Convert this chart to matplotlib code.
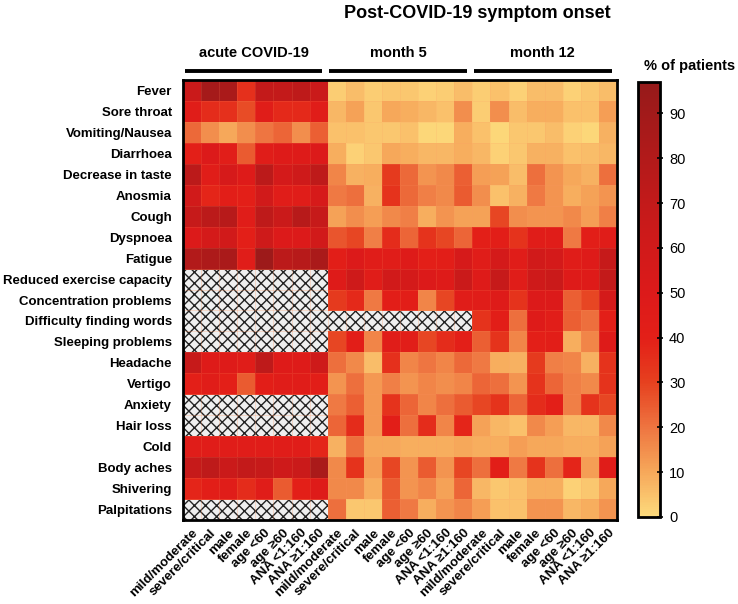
import numpy as np
import matplotlib
matplotlib.use("Agg")
import matplotlib.pyplot as plt
from matplotlib.colors import LinearSegmentedColormap
from matplotlib.patches import Rectangle

plt.rcParams['font.family'] = ['Liberation Sans', 'DejaVu Sans']
plt.rcParams['hatch.linewidth'] = 1.0

symptoms = ["Fever", "Sore throat", "Vomiting/Nausea", "Diarrhoea", "Decrease in taste",
            "Anosmia", "Cough", "Dyspnoea", "Fatigue", "Reduced exercise capacity",
            "Concentration problems", "Difficulty finding words", "Sleeping problems",
            "Headache", "Vertigo", "Anxiety", "Hair loss", "Cold", "Body aches",
            "Shivering", "Palpitations"]
subgroups = ["mild/moderate", "severe/critical", "male", "female",
             "age <60", "age \u226560", "ANA <1:160", "ANA \u22651:160"]
periods = ["acute COVID-19", "month 5", "month 12"]

n = np.nan
# % of patients, rows = symptoms, cols = subgroups (nan = not assessed)
acute = np.array([
    [65, 88, 85, 35, 70, 70, 73, 65],
    [45, 36, 35, 28, 45, 37, 37, 45],
    [22, 15, 10, 15, 20, 23, 15, 24],
    [40, 50, 43, 25, 45, 47, 47, 50],
    [75, 45, 55, 47, 75, 57, 62, 73],
    [60, 38, 42, 40, 60, 45, 45, 55],
    [68, 75, 77, 45, 73, 65, 77, 68],
    [50, 57, 60, 40, 62, 50, 50, 60],
    [80, 83, 85, 45, 93, 75, 77, 85],
    [n, n, n, n, n, n, n, n],
    [n, n, n, n, n, n, n, n],
    [n, n, n, n, n, n, n, n],
    [n, n, n, n, n, n, n, n],
    [68, 47, 47, 45, 73, 47, 47, 62],
    [40, 45, 40, 25, 42, 45, 45, 42],
    [n, n, n, n, n, n, n, n],
    [n, n, n, n, n, n, n, n],
    [45, 45, 45, 45, 45, 45, 45, 38],
    [68, 73, 65, 70, 68, 62, 65, 85],
    [38, 42, 45, 36, 45, 25, 40, 47],
    [n, n, n, n, n, n, n, n],
])
month5 = np.array([
    [3, 6, 3, 4, 4, 2, 3, 6],
    [7, 11, 4, 10, 9, 7, 5, 15],
    [5, 5, 4, 4, 5, 1, 1, 9],
    [9, 2, 4, 10, 9, 7, 7, 9],
    [17, 8, 9, 32, 22, 14, 16, 24],
    [19, 21, 8, 34, 22, 18, 16, 25],
    [11, 15, 12, 16, 18, 9, 14, 11],
    [26, 29, 18, 36, 23, 34, 29, 23],
    [42, 50, 45, 45, 47, 40, 42, 55],
    [47, 62, 45, 60, 57, 50, 47, 65],
    [32, 37, 19, 42, 42, 17, 29, 45],
    [n, n, n, n, n, n, n, n],
    [29, 42, 17, 45, 43, 29, 36, 40],
    [21, 16, 6, 35, 17, 20, 17, 22],
    [14, 21, 13, 18, 14, 17, 15, 17],
    [19, 24, 13, 34, 23, 17, 21, 25],
    [23, 36, 13, 42, 21, 36, 17, 38],
    [8, 21, 10, 10, 9, 9, 9, 10],
    [16, 34, 12, 29, 14, 25, 14, 29],
    [16, 16, 9, 25, 14, 17, 11, 23],
    [21, 4, 4, 24, 19, 9, 14, 17],
])
month12 = np.array([
    [3, 5, 2, 6, 6, 2, 4, 6],
    [3, 15, 6, 9, 9, 5, 5, 12],
    [5, 1, 4, 4, 6, 2, 1, 8],
    [7, 2, 4, 8, 8, 5, 6, 7],
    [12, 11, 6, 21, 14, 10, 8, 21],
    [15, 5, 8, 19, 14, 9, 11, 14],
    [11, 29, 15, 14, 14, 16, 12, 18],
    [40, 42, 34, 45, 45, 19, 42, 45],
    [44, 57, 45, 60, 57, 45, 47, 68],
    [47, 68, 45, 62, 65, 47, 47, 70],
    [45, 47, 34, 50, 50, 24, 29, 57],
    [34, 42, 21, 47, 43, 24, 21, 40],
    [24, 34, 17, 40, 42, 9, 17, 47],
    [19, 9, 8, 32, 18, 17, 8, 34],
    [23, 21, 14, 34, 23, 18, 16, 34],
    [29, 34, 23, 36, 40, 18, 34, 29],
    [11, 7, 5, 16, 12, 7, 7, 16],
    [9, 9, 12, 10, 10, 9, 9, 11],
    [21, 42, 19, 34, 21, 38, 12, 45],
    [7, 4, 5, 9, 9, 2, 4, 10],
    [12, 5, 5, 14, 14, 7, 9, 14],
])

data = np.hstack([acute, month5, month12])
vmax = 97

cmap = LinearSegmentedColormap.from_list("onset", [
    (0 / vmax, "#FDDB7C"), (10 / vmax, "#F6A75A"), (20 / vmax, "#EE7440"),
    (30 / vmax, "#E6401F"), (40 / vmax, "#E31F18"), (50 / vmax, "#DC1A1A"),
    (60 / vmax, "#D11A1A"), (70 / vmax, "#C31A1A"), (80 / vmax, "#B21A1A"),
    (90 / vmax, "#A21A1A"), (1.0, "#961A1A")])

fig = plt.figure(figsize=(7.38, 6.04), dpi=100)
ax = fig.add_axes([183 / 738, 84 / 604, 434 / 738, 440 / 604])

# hatched background shows through the missing cells
ax.add_patch(Rectangle((0, 0), 1, 1, transform=ax.transAxes, facecolor="#EFEFEF",
                       edgecolor="#222222", hatch="xxx", linewidth=0, zorder=0))
mesh = ax.pcolormesh(np.ma.masked_invalid(data), cmap=cmap, vmin=0, vmax=vmax,
                     edgecolors=(1, 0.6, 0.4, 0.15), linewidth=0.5, zorder=1)
ax.set_xlim(0, data.shape[1])
ax.set_ylim(data.shape[0], 0)

ax.set_yticks(np.arange(len(symptoms)) + 0.5)
ax.set_yticklabels(symptoms, fontsize=9.5, fontweight="bold")
ax.set_xticks(np.arange(data.shape[1]) + 0.5)
ax.set_xticklabels(subgroups * len(periods), fontsize=9.5, fontweight="bold",
                   rotation=45, ha="right", rotation_mode="anchor")
ax.tick_params(axis="y", length=0, pad=8)
ax.tick_params(axis="x", length=0, pad=5)
for s in ax.spines.values():
    s.set_linewidth(2)
    s.set_zorder(3)

# period headers with bars
trans = ax.get_xaxis_transform()
for g, name in enumerate(periods):
    x0 = g * len(subgroups)
    ax.plot([x0 + 0.1, x0 + len(subgroups) - 0.3], [1.0205, 1.0205], color="black",
            lw=2.8, transform=trans, clip_on=False, solid_capstyle="butt")
    ax.text(x0 + len(subgroups) / 2 - 0.1, 1.062, name, transform=trans, ha="center",
            va="center", fontsize=10.5, fontweight="bold")

fig.text(477 / 738, 1 - 13 / 604, "Post-COVID-19 symptom onset", ha="center", va="center",
         fontsize=13, fontweight="bold")

cax = fig.add_axes([638 / 738, 87 / 604, 22 / 738, 435 / 604])
cb = fig.colorbar(mesh, cax=cax, ticks=np.arange(0, 100, 10))
cb.outline.set_linewidth(2)
cax.tick_params(direction="inout", length=5, width=1.2, labelsize=10.5, pad=4)
fig.text(690 / 738, 1 - 66 / 604, "% of patients", ha="center", va="center",
         fontsize=10.5, fontweight="bold")

fig.savefig("out.png", dpi=100)
